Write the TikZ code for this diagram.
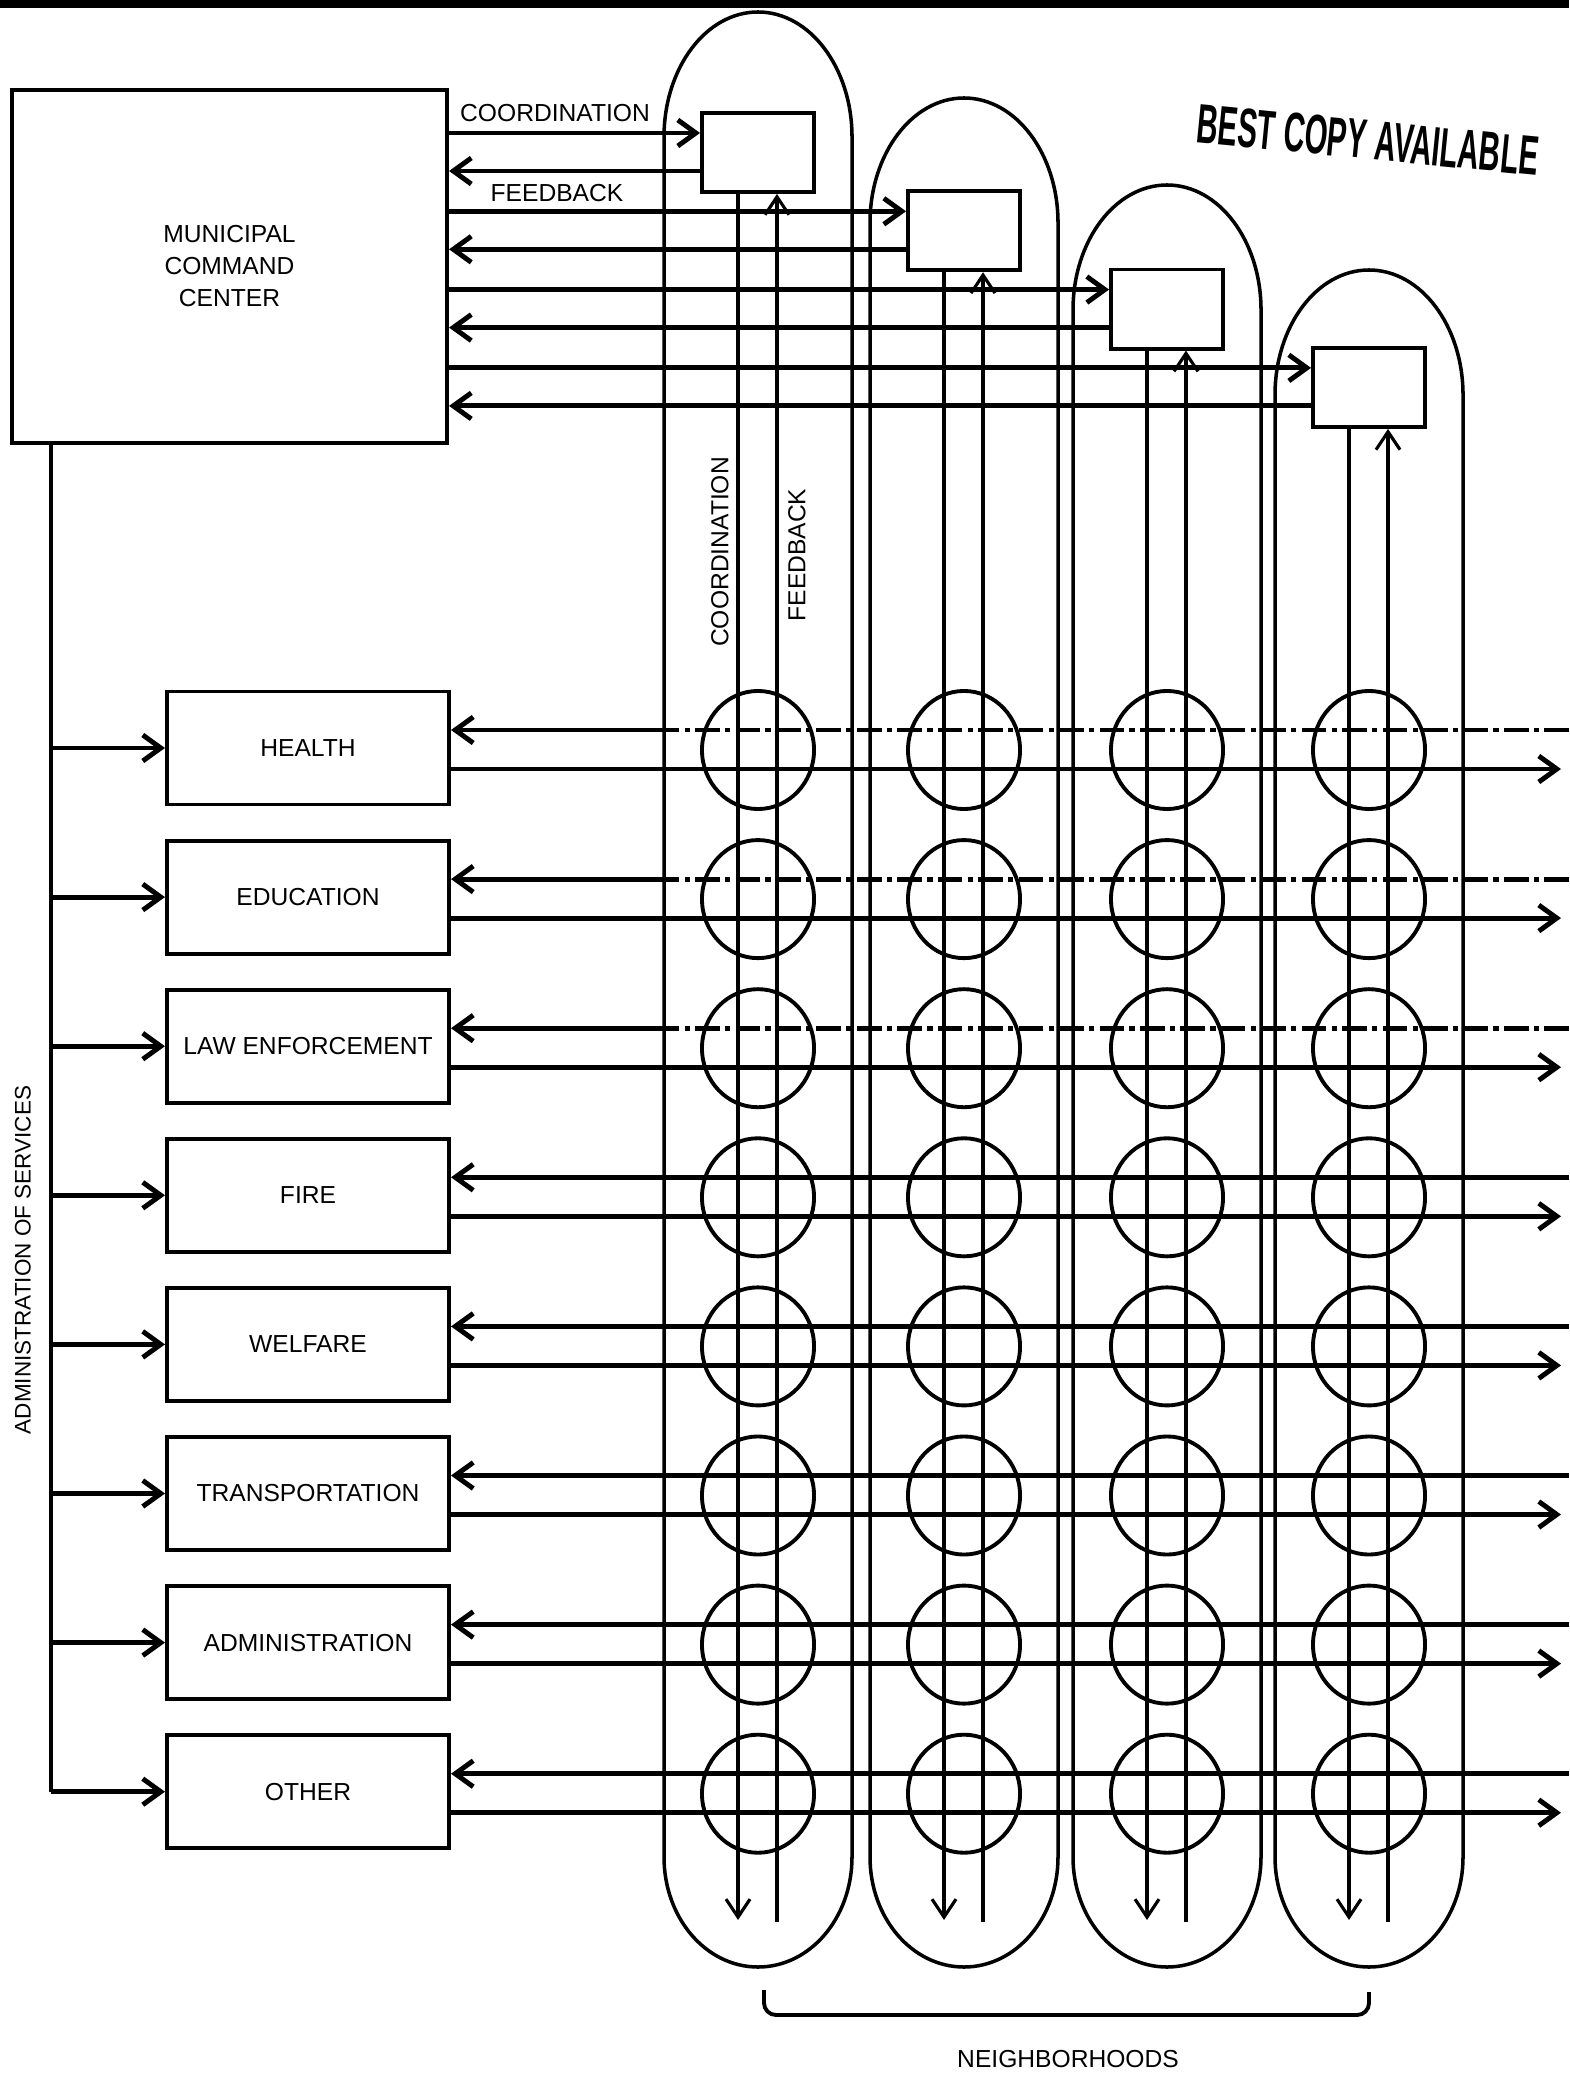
\documentclass[tikz,border=0pt]{standalone}
\usepackage{fontspec}
\setmainfont{Liberation Sans}
\usepackage{graphicx}
\usetikzlibrary{arrows.meta,positioning,shapes.geometric,calc}

\begin{document}
\begin{tikzpicture}[x=0.01cm, y=-0.01cm,
  box/.style={draw, line width=1.1pt, inner sep=0pt, align=center,
              font=\fontsize{7}{9.1}\selectfont},
  svcbox/.style={box, minimum width=2.82cm, minimum height=1.13cm},
  hubbox/.style={box, minimum width=1.12cm, minimum height=0.79cm},
  cell/.style={draw, ellipse, line width=1.1pt, inner sep=0pt,
               minimum width=1.12cm, minimum height=1.18cm},
  hood/.style={line width=1pt},
  fbline/.style={line width=1.4pt},
  dashfb/.style={line width=1.4pt, dash pattern=on 7pt off 1.5pt on 1.5pt off 1.5pt},
  arrow/.style={-{Straight Barb[length=1.8mm,width=2.6mm]}, line width=1.4pt},
  vline/.style={-{Straight Barb[length=1.8mm,width=2.4mm]}, line width=0.9pt},
  lbl/.style={font=\fontsize{7}{9}\selectfont, inner sep=0pt}
]
\useasboundingbox (0,0) rectangle (1569,2080);
\fill (0,0) rectangle (1569,8);

% neighborhoods
\foreach \cx/\ty in {758/12, 964/98, 1167/185, 1369/270}{
  \draw[hood] ({\cx-94},1857) -- ({\cx-94},{\ty+125})
    .. controls ({\cx-94},{\ty+56}) and ({\cx-52},\ty) .. (\cx,\ty)
    .. controls ({\cx+52},\ty) and ({\cx+94},{\ty+56}) .. ({\cx+94},{\ty+125})
    -- ({\cx+94},1857)
    .. controls ({\cx+94},1918) and ({\cx+52},1967) .. (\cx,1967)
    .. controls ({\cx-52},1967) and ({\cx-94},1918) .. cycle;
}

% command center and neighborhood boxes
\node[box, minimum width=4.35cm, minimum height=3.53cm] (mcc) at (229.5,266.5)
  {MUNICIPAL\\COMMAND\\CENTER};
\foreach \i/\cx in {1/758, 2/964, 3/1167, 4/1369}{
  \node[hubbox] (hub\i) at (\cx,{152.5+78.3*(\i-1)}) {};
  \coordinate (co\i) at ([yshift=0.195cm]hub\i.west);
  \coordinate (fb\i) at ([yshift=-0.185cm]hub\i.west);
  \draw[arrow] (mcc.east |- co\i) -- (co\i);
  \draw[arrow] (fb\i) -- (mcc.east |- fb\i);
  \coordinate (cd\i) at ({\cx-20},1920);
  \coordinate (fu\i) at ({\cx+19},1922);
  \draw[vline] (hub\i.south -| cd\i) -- (cd\i);
  \draw[vline] (fu\i) -- (hub\i.south -| fu\i);
}
\node[lbl] (toplbl) at (555,113) {COORDINATION};
\node[lbl] (botlbl) at (557,193) {FEEDBACK};
\node[lbl, rotate=90] (coordlbl) at (720,552) {COORDINATION};
\node[lbl, rotate=90] (fblbl) at (797,555) {FEEDBACK};

% services
\coordinate (trunk) at ([xshift=0.41cm]mcc.south west);
\foreach \i/\nm/\txt/\pat in {0/health/HEALTH/dashfb, 1/education/EDUCATION/dashfb,
    2/lawenf/LAW ENFORCEMENT/dashfb, 3/fire/FIRE/fbline, 4/welfare/WELFARE/fbline,
    5/transport/TRANSPORTATION/fbline, 6/admin/ADMINISTRATION/fbline, 7/other/OTHER/fbline}{
  \node[svcbox] (\nm) at (308,{748+149.1*\i}) {\txt};
  \coordinate (fin\i) at (1569,{748+149.1*\i-18});
  \coordinate (split\i) at (665,{748+149.1*\i-18});
  \coordinate (fout\i) at (1561,{748+149.1*\i+21});
  \draw[arrow] (trunk |- \nm.west) -- (\nm.west);
  \draw[\pat] (fin\i) -- (split\i);
  \draw[arrow] (split\i) -- (\nm.east |- split\i);
  \draw[arrow] (\nm.east |- fout\i) -- (fout\i);
  \foreach \j/\cx in {1/758, 2/964, 3/1167, 4/1369}
    \node[cell] (cell-\nm-\j) at (\cx,{750+149.1*\i}) {};
}
\draw[line width=1.1pt] (trunk) -- (trunk |- other.west);
\node[lbl, rotate=90, font=\fontsize{6.4}{8}\selectfont] (adminlbl) at (23,1260)
  {ADMINISTRATION OF SERVICES};

% bracket
\draw[line width=1.1pt, rounded corners=0.12cm] (764,1990) -- (764,2015) -- (1369,2015) -- (1369,1992);
\node[lbl] (hoods) at (1068,2059) {NEIGHBORHOODS};

\node[rotate=-5.6, inner sep=0pt, font=\fontsize{15.8}{18}\bfseries] (stamp) at (1368,140)
  {\scalebox{0.53}[1]{BEST COPY AVAILABLE}};
\end{tikzpicture}
\end{document}
